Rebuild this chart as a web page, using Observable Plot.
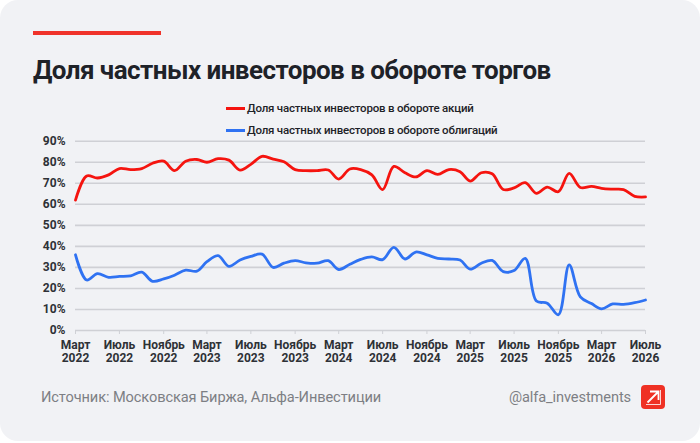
<!DOCTYPE html>
<html>
<head>
<meta charset="utf-8">
<script src="https://cdn.jsdelivr.net/npm/d3@7"></script>
<script src="https://cdn.jsdelivr.net/npm/@observablehq/plot@0.6"></script>
<style>
  html, body { margin: 0; padding: 0; background: #ffffff; }
  #wrap { position: relative; width: 700px; height: 443px; overflow: hidden; font-family: Roboto, "Noto Sans", sans-serif; }
  #card { position: absolute; left: 0; top: 0; width: 700px; height: 441px; background: #f1f2f5; border-radius: 18px; }
  #accent { position: absolute; left: 33px; top: 31px; width: 128px; height: 4px; background: #f0332a; }
  #title { position: absolute; left: 33px; top: 55px; font-size: 26px; font-weight: 700; color: #1e2228; letter-spacing: -0.55px; white-space: nowrap; }
  .leg { position: absolute; left: 226px; font-size: 11.5px; font-weight: 500; color: #1e2228; white-space: nowrap; display: flex; align-items: center; letter-spacing: -0.2px; }
  .leg i { display: inline-block; width: 19px; height: 3px; margin-right: 2px; }
  #chart { position: absolute; left: 0; top: 0; }
  #src { position: absolute; left: 41px; top: 388px; font-size: 14.6px; color: #7d7f84; white-space: nowrap; letter-spacing: -0.1px; }
  #handle { position: absolute; right: 69px; top: 388px; font-size: 14.6px; color: #7d7f84; white-space: nowrap; letter-spacing: -0.1px; }
  #logo { position: absolute; left: 641px; top: 385px; }
</style>
</head>
<body>
<div id="wrap">
  <div id="card"></div>
  <div id="accent"></div>
  <div id="title">Доля частных инвесторов в обороте торгов</div>
  <div class="leg" id="leg1" style="top:101px"><i style="background:#f5140f"></i><span id="l1"></span></div>
  <div class="leg" id="leg2" style="top:123px"><i style="background:#2f72f2"></i><span id="l2"></span></div>
  <div id="chart"></div>
  <div id="src">Источник: Московская Биржа, Альфа-Инвестиции</div>
  <div id="handle">@alfa_investments</div>
  <svg id="logo" width="24" height="24" viewBox="0 0 24 24">
    <rect x="0" y="0" width="24" height="24" rx="4" fill="#ef3124"/>
    <path d="M6.5 17.5 L17.5 6.5 M9 6.5 H17.5 V15" stroke="#ffffff" stroke-width="1.8" fill="none"/>
    <path d="M5 19.5 H19.5 V5" stroke="#ffffff" stroke-width="1" fill="none" opacity="0.8"/>
  </svg>
</div>
<script>
// Series names
const seriesNames = [
  "Доля частных инвесторов в обороте акций",
  "Доля частных инвесторов в обороте облигаций"
];
// Monthly categories: March 2022 .. July 2026
const startMonth = "2022-03-01";
const endMonthExclusive = "2026-08-01";
// Share of private investors in stock trading volume, %
const stocks = [
  62, 73.5, 72.5, 74, 77, 76.5, 77, 79.5, 80.5, 76,
  80.5, 81.3, 80, 81.7, 81, 76.3, 79, 82.8, 81.5, 80.2,
  76.5, 76, 76, 76.3, 72, 76.8, 76.5, 74, 67, 78,
  75, 73, 76, 74.2, 76.5, 75.5, 71, 75, 74.5, 67,
  67.8, 70.3, 65.2, 68.2, 66, 74.7, 68, 68.5, 67.6, 67.2,
  67, 63.8, 63.5
];
// Share of private investors in bond trading volume, %
const bonds = [
  36, 24, 27, 25.3, 25.7, 26, 27.7, 23.4, 24.5, 26.3,
  28.7, 28.2, 32.7, 35.6, 30.5, 33.5, 35.2, 36.3, 30, 32,
  33.2, 32.2, 32, 33.2, 29, 31.5, 33.8, 35, 33.7, 39.5,
  34, 37.3, 36, 34.3, 34, 33.5, 29.2, 32, 33.3, 28,
  28.5, 34.3, 14, 13, 7.5, 31.2, 16, 12.8, 10.3, 12.6,
  12.4, 13.2, 14.5
];
// Tick labels
const monthNames = ["Январь","Февраль","Март","Апрель","Май","Июнь","Июль","Август","Сентябрь","Октябрь","Ноябрь","Декабрь"];
const yTicks = [0, 10, 20, 30, 40, 50, 60, 70, 80, 90];
const colors = ["#f5140f", "#2f72f2"];

document.getElementById("l1").textContent = seriesNames[0];
document.getElementById("l2").textContent = seriesNames[1];

const months = d3.utcMonth.range(new Date(startMonth), new Date(endMonthExclusive));
const xTicks = months.filter((d, i) => i % 4 === 0);

const rows = [];
months.forEach((m, i) => {
  rows.push({date: m, value: stocks[i], series: seriesNames[0]});
  rows.push({date: m, value: bonds[i], series: seriesNames[1]});
});

const chart = Plot.plot({
  width: 700,
  height: 443,
  marginLeft: 75,
  marginRight: 55,
  marginTop: 140.7,
  marginBottom: 113,
  style: {background: "transparent", fontFamily: "Roboto, sans-serif", overflow: "visible"},
  x: {type: "utc", domain: [months[0], months[months.length - 1]]},
  y: {domain: [0, 90]},
  color: {domain: seriesNames, range: colors},
  marks: [
    Plot.gridY(yTicks, {stroke: "#cfd0d5", strokeOpacity: 1, strokeWidth: 1.6}),
    Plot.axisY({
      ticks: yTicks, tickSize: 0, tickPadding: 10,
      tickFormat: d => d + "%", label: null,
      fontSize: 12, fontWeight: 700, fill: "#2e3136"
    }),
    Plot.axisX({
      ticks: xTicks, tickSize: 4, tickPadding: 5,
      tickFormat: d => monthNames[d.getUTCMonth()] + "\n" + d.getUTCFullYear(),
      label: null, fontSize: 12, fontWeight: 700, fill: "#2e3136",
      stroke: "#cfd0d5", lineHeight: 1.12
    }),
    Plot.line(rows, {
      x: "date", y: "value", z: "series", stroke: "series",
      strokeWidth: 2.8, curve: "catmull-rom"
    })
  ]
});
document.getElementById("chart").appendChild(chart);
</script>
</body>
</html>
